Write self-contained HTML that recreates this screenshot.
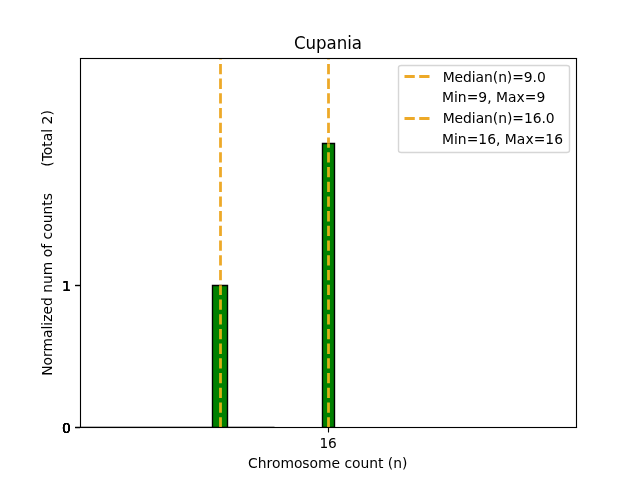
<!DOCTYPE html>
<html><head><meta charset="utf-8"><title>Cupania</title>
<style>html,body{margin:0;padding:0;background:#fff;overflow:hidden}svg{display:block}text{white-space:pre}</style>
</head><body>
<svg width="640" height="480" viewBox="0 0 640 480">
<defs><clipPath id="ax"><rect x="80" y="57.6" width="496" height="369.6"/></clipPath><clipPath id="bars"><rect x="212.5" y="285.5" width="15" height="141.7"/><rect x="322.5" y="143.5" width="12" height="283.7"/></clipPath><clipPath id="nobars"><path clip-rule="evenodd" d="M80 57.6H576V427.2H80Z M212.5 285.5H227.5V427.2H212.5Z M322.5 143.5H334.5V427.2H322.5Z"/></clipPath></defs>
<rect x="0" y="0" width="640" height="480" fill="#ffffff"/>
<g clip-path="url(#ax)">
<path d="M 80.5 427.5 L 274.5 427.5 Z" fill="none" stroke="#000000" stroke-width="1.3889" stroke-linejoin="miter" stroke-linecap="square"/>
<path d="M 212.5 427.5 L 227.5 427.5 L 227.5 285.5 L 212.5 285.5 Z" fill="#008000" stroke="#000000" stroke-width="1.3889" stroke-linejoin="miter"/>
<path d="M 322.5 427.5 L 334.5 427.5 L 334.5 143.5 L 322.5 143.5 Z" fill="#008000" stroke="#000000" stroke-width="1.3889" stroke-linejoin="miter"/>
</g>
<g clip-path="url(#nobars)">
<path d="M 220.5 427.5 L 220.5 58.5" fill="none" stroke="#eda928" stroke-width="2.7778" stroke-dasharray="10.2778,4.4444"/>
<path d="M 328.5 427.5 L 328.5 58.5" fill="none" stroke="#eda928" stroke-width="2.7778" stroke-dasharray="10.2778,4.4444"/>
</g>
<g clip-path="url(#bars)">
<path d="M 220.5 427.5 L 220.5 58.5" fill="none" stroke="#dcb216" stroke-width="2.7778" stroke-dasharray="10.2778,4.4444"/>
<path d="M 328.5 427.5 L 328.5 58.5" fill="none" stroke="#dcb216" stroke-width="2.7778" stroke-dasharray="10.2778,4.4444"/>
</g>
<g stroke="#000000" stroke-width="1.1111" fill="none">
<path d="M 328.5 427.5 L 328.5 432.5"/>
<path d="M 80 427.5 L 75.12 427.5"/>
<path d="M 80 427.5 L 75.12 427.5"/>
<path d="M 80 427.5 L 75.12 427.5"/>
<path d="M 80 427.5 L 75.12 427.5"/>
<path d="M 80 427.5 L 75.12 427.5"/>
<path d="M 80 285.5 L 75.12 285.5"/>
<path d="M 80 285.5 L 75.12 285.5"/>
<path d="M 80 285.5 L 75.12 285.5"/>
<path d="M 80 285.5 L 75.12 285.5"/>
<path d="M 80.5 427.5 L 80.5 58.5" stroke-linecap="square"/>
<path d="M 576.5 427.5 L 576.5 58.5" stroke-linecap="square"/>
<rect x="79.9444" y="426.9444" width="497.1111" height="1.1111" fill="#000000" stroke="none"/>
<rect x="79.9444" y="57.9444" width="497.1111" height="1.1111" fill="#000000" stroke="none"/>
</g>
<g style="font-family:'DejaVu Sans','Liberation Sans',sans-serif" fill="#000000">
<text transform="translate(328.125 448.476) scale(0.9900 1.0050)" font-size="13.8889" text-anchor="middle">16</text>
<text transform="translate(327.750 468.473) scale(1.0000 1.0175)" font-size="13.8889" text-anchor="middle" letter-spacing="-0.0250">Chromosome count (n)</text>
<text transform="translate(70.778 433.477) scale(0.9950 1.0325)" font-size="13.8889" text-anchor="end">0</text>
<text transform="translate(70.778 433.477) scale(0.9950 1.0325)" font-size="13.8889" text-anchor="end">0</text>
<text transform="translate(70.778 433.477) scale(0.9950 1.0325)" font-size="13.8889" text-anchor="end">0</text>
<text transform="translate(70.778 433.477) scale(0.9950 1.0325)" font-size="13.8889" text-anchor="end">0</text>
<text transform="translate(70.778 433.477) scale(0.9950 1.0325)" font-size="13.8889" text-anchor="end">0</text>
<text transform="translate(71.028 291.323) scale(1.0100 1.0100)" font-size="13.8889" text-anchor="end" letter-spacing="0.1000">1</text>
<text transform="translate(71.028 291.323) scale(1.0100 1.0100)" font-size="13.8889" text-anchor="end" letter-spacing="0.1000">1</text>
<text transform="translate(71.028 291.323) scale(1.0100 1.0100)" font-size="13.8889" text-anchor="end" letter-spacing="0.1000">1</text>
<text transform="translate(71.028 291.323) scale(1.0100 1.0100)" font-size="13.8889" text-anchor="end" letter-spacing="0.1000">1</text>
<text transform="translate(51.997 243.025) rotate(-90) scale(1.0000 1.0250)" font-size="13.8889" text-anchor="middle">Normalized num of counts      (Total 2)</text>
<text transform="translate(328.000 49.267) scale(1.0000 1.0475)" font-size="16.6667" text-anchor="middle" letter-spacing="-0.0500">Cupania</text>
</g>
<path d="M 401.5 152.5 L 566.5 152.5 Q 569.5 152.5 569.5 150.5 L 569.5 67.5 Q 569.5 65.5 566.5 65.5 L 401.5 65.5 Q 398.5 65.5 398.5 67.5 L 398.5 150.5 Q 398.5 152.5 401.5 152.5 Z" fill="#ffffff" stroke="#cccccc" stroke-width="1.3889" stroke-linejoin="miter" opacity="0.8"/>
<path d="M 404.5 76.5 L 431.5 76.5" fill="none" stroke="#eda928" stroke-width="2.7778" stroke-dasharray="10.2778,4.4444"/>
<path d="M 404.5 118.5 L 431.5 118.5" fill="none" stroke="#eda928" stroke-width="2.7778" stroke-dasharray="10.2778,4.4444"/>
<g style="font-family:'DejaVu Sans','Liberation Sans',sans-serif" fill="#000000">
<text transform="translate(442.688 81.653) scale(1.0000 1.0200)" font-size="13.8889" text-anchor="start" letter-spacing="-0.0625">Median(n)=9.0</text>
<text transform="translate(441.938 102.040) scale(1.0000 1.0500)" font-size="13.8889" text-anchor="start" letter-spacing="0.0250">Min=9, Max=9</text>
<text transform="translate(442.688 123.426) scale(1.0000 1.0200)" font-size="13.8889" text-anchor="start" letter-spacing="-0.0500">Median(n)=16.0</text>
<text transform="translate(441.938 143.812) scale(1.0000 1.0175)" font-size="13.8889" text-anchor="start" letter-spacing="0.0250">Min=16, Max=16</text>
</g>
</svg>
</body></html>
